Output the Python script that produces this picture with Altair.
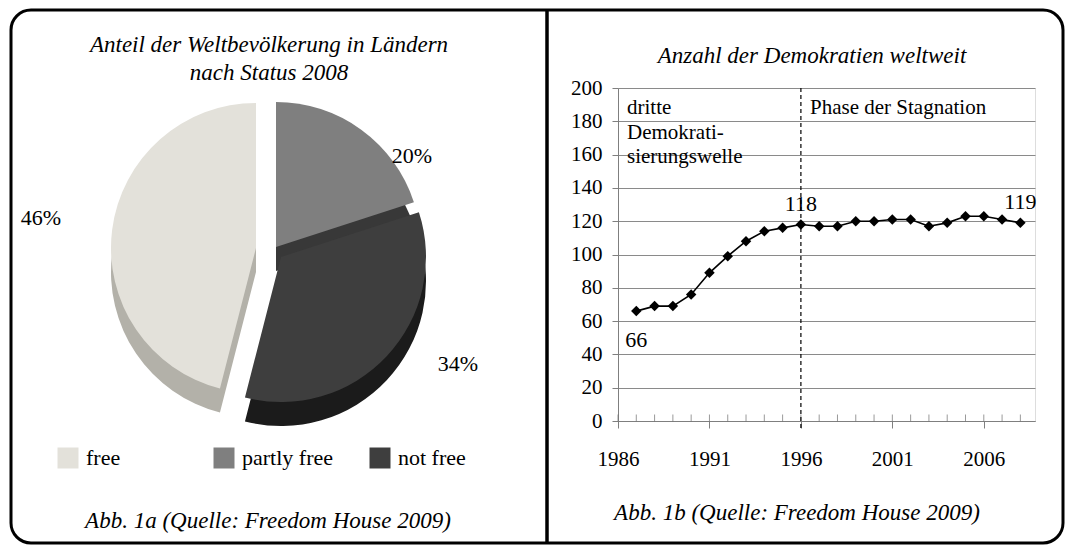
import altair as alt
import pandas as pd

# ---------------- data ----------------
status_labels = ["partly free", "not free", "free"]      # clockwise from 12 o'clock
status_shares = [20, 34, 46]
legend_order = ["free", "partly free", "not free"]

years = list(range(1987, 2009))
democracies = [66, 69, 69, 76, 89, 99, 108, 114, 116, 118, 117,
               117, 120, 120, 121, 121, 117, 119, 123, 123, 121, 119]
labelled_below = [1987]
labelled_above = [1996, 2008]
phase_start = [1996]
x_tick_labels = [1986, 1991, 1996, 2001, 2006]
y_tick_values = [0, 20, 40, 60, 80, 100, 120, 140, 160, 180, 200]

title_left = ["Anteil der Weltbevölkerung in Ländern", "nach Status 2008"]
title_right = ["Anzahl der Demokratien weltweit"]
caption_left = ["Abb. 1a (Quelle: Freedom House 2009)"]
caption_right = ["Abb. 1b (Quelle: Freedom House 2009)"]
phase1_lines = ["dritte", "Demokrati-", "sierungswelle"]
phase2_lines = ["Phase der Stagnation"]

# ---------------- layout / style ----------------
SERIF = "'Liberation Serif', 'Times New Roman', Times, 'DejaVu Serif', serif"
W, H = 417, 333                     # line-chart plot area
PX, PY = 618, 88                    # page position of plot origin


def rx(px):
    return px - PX


def ry(py):
    return py - PY


one = pd.DataFrame({"k": [0]})


def text_layer(lines, x, y, size, italic=False, align="center", lh=0):
    layers = []
    for i, line in enumerate(lines):
        layers.append(
            alt.Chart(pd.DataFrame({"t": [line]}))
            .mark_text(align=align, baseline="middle", font=SERIF, fontSize=size,
                       fontStyle="italic" if italic else "normal", color="black")
            .encode(text="t:N", x=alt.value(rx(x)), y=alt.value(ry(y + i * lh)))
        )
    return layers


# frame and divider
border = alt.Chart(one).mark_rect(fillOpacity=0, stroke="black", strokeWidth=3,
                                   cornerRadius=20).encode(
    x=alt.value(rx(11)), x2=alt.value(rx(1063)), y=alt.value(ry(10)), y2=alt.value(ry(543)))
divider = alt.Chart(one).mark_rule(color="black", strokeWidth=3.5).encode(
    x=alt.value(rx(547)), y=alt.value(ry(10)), y2=alt.value(ry(543)))

# ---------------- pie ----------------
pie_df = pd.DataFrame({"status": status_labels, "share": status_shares,
                       "ord": list(range(len(status_labels)))})
pie_base = (
    alt.Chart(pie_df)
    .transform_joinaggregate(total="sum(share)")
    .transform_window(cum="sum(share)", sort=[alt.SortField("ord", order="ascending")])
    .transform_calculate(
        t1="datum.cum / datum.total * 2 * PI",
        t0="(datum.cum - datum.share) / datum.total * 2 * PI",
        pct="datum.share + '%'",
    )
)
CX, CY, R, T = 274, 250, 145, 24
explode = {"free": (-18, -2), "partly free": (2, -3), "not free": (7, 7)}
top_colors = ["#E3E1DA", "#7F7F7F", "#3E3E3E"]
side_colors = {"free": "#B3B1A9", "partly free": "#383838", "not free": "#1B1B1B"}

color_enc = alt.Color(
    "status:N",
    scale=alt.Scale(domain=legend_order, range=top_colors),
    legend=alt.Legend(
        orient="none", legendX=rx(57), legendY=ry(447), direction="horizontal",
        title=None, symbolType="square", symbolSize=441, symbolStrokeWidth=0,
        symbolOpacity=1, labelFont=SERIF, labelFontSize=22, labelColor="black",
        labelOffset=7, columnPadding=36, gridAlign="all", padding=0,
    ),
)

pie_sides, pie_tops = [], []
for s in status_labels:
    dx, dy = explode[s]
    sel = pie_base.transform_filter(alt.datum.status == s)
    pie_sides.append(
        sel.mark_arc(outerRadius=R, color=side_colors[s]).encode(
            theta=alt.Theta("t0:Q", scale=None), theta2=alt.Theta2("t1"),
            x=alt.value(rx(CX + dx)), y=alt.value(ry(CY + dy + T)))
    )
    pie_tops.append(
        sel.mark_arc(outerRadius=R).encode(
            theta=alt.Theta("t0:Q", scale=None), theta2=alt.Theta2("t1"),
            color=color_enc,
            x=alt.value(rx(CX + dx)), y=alt.value(ry(CY + dy)))
    )

pie_label_pos = {"free": (41, 218), "partly free": (412, 156), "not free": (458, 364)}
pie_labels = []
for s in status_labels:
    px, py = pie_label_pos[s]
    pie_labels.append(
        pie_base.transform_filter(alt.datum.status == s)
        .mark_text(font=SERIF, fontSize=22, color="black", baseline="middle")
        .encode(text="pct:N", x=alt.value(rx(px)), y=alt.value(ry(py)))
    )

# ---------------- line chart ----------------
line_df = pd.DataFrame({"year": years, "count": democracies})
xs = alt.Scale(domain=[1986, 2008.8], nice=False, zero=False)
ys = alt.Scale(domain=[0, 200], nice=False)
xaxis = alt.Axis(values=x_tick_labels, title=None, grid=False, format="d",
                 labelFont=SERIF, labelFontSize=21, labelColor="black",
                 tickSize=7, tickColor="#7f7f7f", domainColor="#7f7f7f",
                 labelPadding=20, labelFlush=False)
yaxis = alt.Axis(values=y_tick_values, title=None, grid=True, gridColor="#8a8a8a",
                 gridWidth=1, labelFont=SERIF, labelFontSize=21, labelColor="black",
                 tickSize=6, tickColor="#7f7f7f", domainColor="#7f7f7f",
                 labelPadding=10)


def X():
    return alt.X("year:Q", scale=xs, axis=xaxis)


def Y():
    return alt.Y("count:Q", scale=ys, axis=yaxis)


line = alt.Chart(line_df).mark_line(color="black", strokeWidth=1.6).encode(x=X(), y=Y())
points = alt.Chart(line_df).mark_point(shape="diamond", filled=True, size=110,
                                       color="black", opacity=1).encode(x=X(), y=Y())
minor_ticks = alt.Chart(alt.sequence(1986, 2009, as_="year")).mark_tick(
    color="#6f6f6f", thickness=1, size=7, yOffset=-3).encode(x=X(), y=alt.value(H))
phase_rule = alt.Chart(pd.DataFrame({"year": phase_start})).mark_rule(
    color="black", strokeDash=[4, 3], strokeWidth=1.2).encode(
    x=X(), y=alt.value(0), y2=alt.value(H + 8))
lab_above = alt.Chart(line_df).transform_filter(
    alt.FieldOneOfPredicate(field="year", oneOf=labelled_above)).mark_text(
    font=SERIF, fontSize=22, color="black", dy=-21).encode(x=X(), y=Y(), text="count:Q")
lab_below = alt.Chart(line_df).transform_filter(
    alt.FieldOneOfPredicate(field="year", oneOf=labelled_below)).mark_text(
    font=SERIF, fontSize=22, color="black", dy=29).encode(x=X(), y=Y(), text="count:Q")

texts = []
texts += text_layer(title_left, 269, 45, 23, italic=True, lh=28)
texts += text_layer(caption_left, 268, 521, 23, italic=True)
texts += text_layer(title_right, 812, 56, 23, italic=True)
texts += text_layer(caption_right, 797, 513, 23, italic=True)
texts += text_layer(phase1_lines, 627, 108, 21, align="left", lh=24.5)
texts += text_layer(phase2_lines, 810, 108, 21, align="left")

chart = alt.layer(
    border, divider,
    *pie_sides, *pie_tops, *pie_labels,
    minor_ticks, phase_rule, line, points, lab_above, lab_below,
    *texts,
).properties(
    width=W, height=H,
    autosize=alt.AutoSizeParams(type="none"),
    padding={"left": PX - 8, "top": PY - 8, "right": 1065 - (PX + W), "bottom": 545 - (PY + H)},
).configure_view(stroke=None).configure(background="white")

chart.save("out.html", embed_options={"renderer": "svg", "actions": False})
